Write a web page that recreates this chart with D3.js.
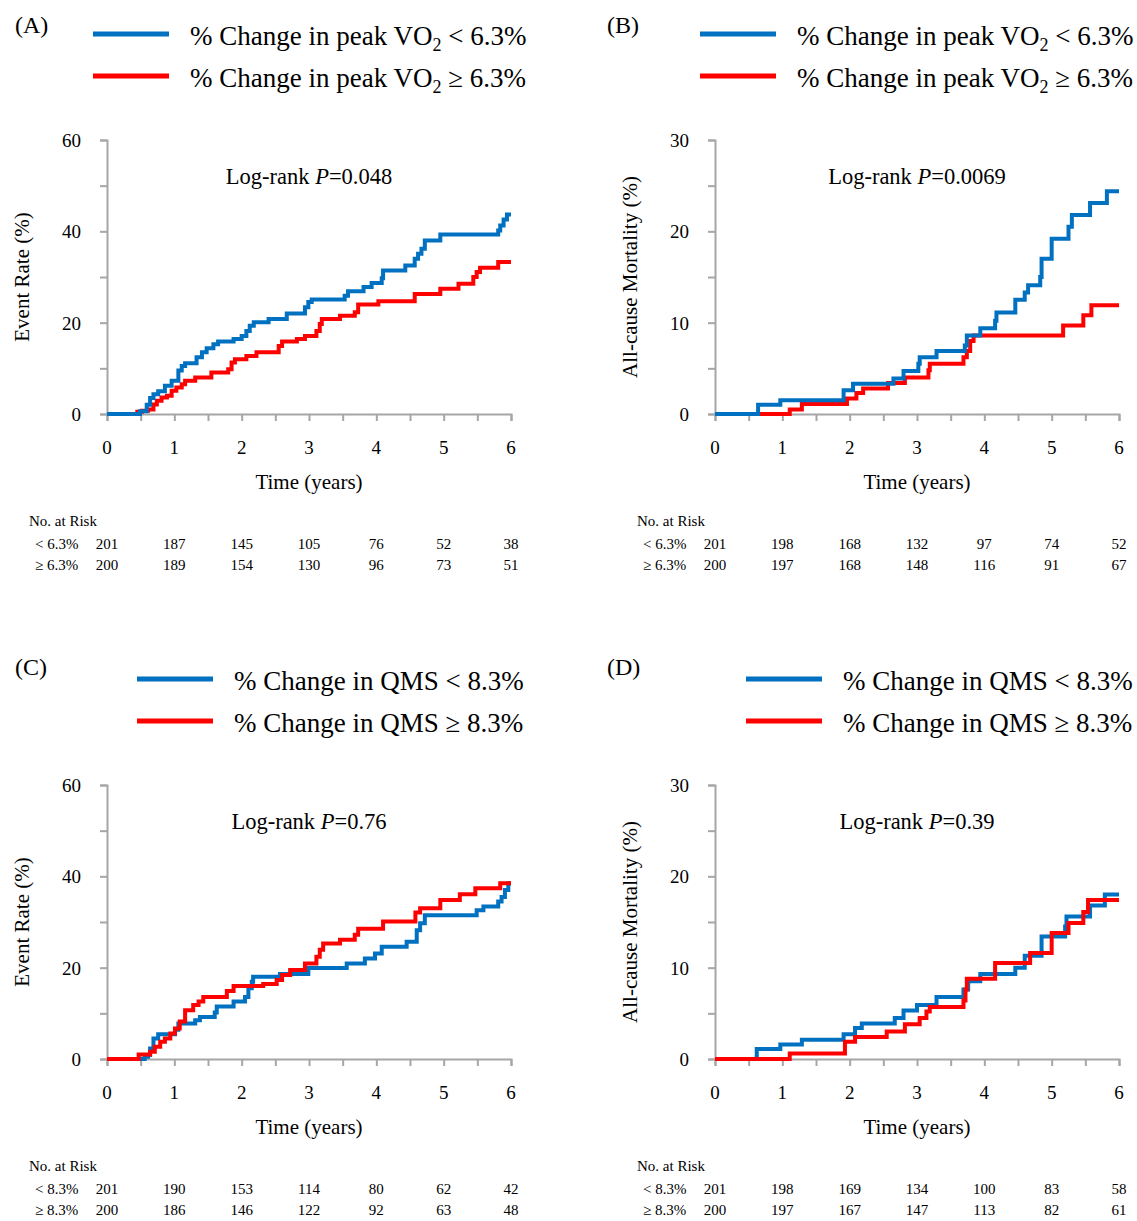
<!DOCTYPE html>
<html>
<head>
<meta charset="utf-8">
<script src="https://cdn.jsdelivr.net/npm/d3@7"></script>
<style>
  body { margin: 0; background: #fff; }
  svg text { font-family: "Liberation Serif", "Times New Roman", serif; fill: #000; }
</style>
</head>
<body>
<div id="chart"></div>
<script>
// Ticks and labels
let xTicks = [0, 1, 2, 3, 4, 5, 6];
let riskYears = [0, 1, 2, 3, 4, 5, 6];

// Panel A: event rate by % change in peak VO2
let aBlueT = [0.49,0.59,0.64,0.69,0.76,0.86,0.96,1.06,1.11,1.16,1.33,1.41,1.48,1.58,1.65,1.88,2.00,2.07,2.12,2.18,2.40,2.67,2.94,2.99,3.04,3.53,3.58,3.81,3.93,4.08,4.10,4.43,4.57,4.62,4.67,4.72,4.95,5.81,5.84,5.89,5.94];
let aBlueV = [0.6,2.0,3.5,4.3,5.0,6.2,7.3,9.5,10.5,11.1,12.4,13.5,14.4,15.3,15.9,16.4,17.1,18.2,19.3,20.1,20.8,22.0,23.4,24.5,25.1,25.9,26.9,27.8,28.7,29.7,31.4,32.5,34.0,35.1,36.2,38.0,39.3,40.2,41.3,42.6,43.7];
let aRedT = [0.45,0.52,0.61,0.69,0.74,0.81,0.89,0.96,1.03,1.11,1.16,1.31,1.55,1.80,1.85,1.90,2.07,2.22,2.55,2.60,2.82,2.94,3.11,3.16,3.19,3.46,3.68,3.73,4.03,4.57,4.95,5.22,5.44,5.49,5.54,5.81];
let aRedV = [0.5,0.7,1.0,2.1,2.9,3.6,4.0,5.1,5.8,6.5,7.3,8.0,9.1,9.8,11.3,12.0,12.7,13.5,14.9,15.9,16.4,17.1,18.2,19.7,20.8,21.5,22.3,24.0,24.7,26.3,27.4,28.5,30.0,31.1,32.0,33.3];
let aRiskBlue = [201, 187, 145, 105, 76, 52, 38];
let aRiskRed = [200, 189, 154, 130, 96, 73, 51];

// Panel B: all-cause mortality by % change in peak VO2
let bBlueT = [0.64,0.97,1.91,2.05,2.65,2.80,3.02,3.04,3.29,3.71,3.74,3.94,4.16,4.18,4.46,4.60,4.65,4.83,4.85,5.00,5.25,5.30,5.57,5.82];
let bBlueV = [1.0,1.5,2.6,3.3,3.9,4.7,5.5,6.2,6.9,7.5,8.6,9.4,10.2,11.1,12.5,13.3,14.1,15.0,17.0,19.2,20.5,21.8,23.1,24.4];
let bRedT = [1.11,1.29,1.96,2.10,2.20,2.57,2.82,3.17,3.19,3.69,3.74,3.79,3.84,5.17,5.47,5.59];
let bRedV = [0.5,1.1,1.7,2.3,2.8,3.4,4.0,4.8,5.5,6.2,6.9,8.0,8.6,9.7,10.8,11.9];
let bRiskBlue = [201, 198, 168, 132, 97, 74, 52];
let bRiskRed = [200, 197, 168, 148, 116, 91, 67];

// Panel C: event rate by % change in QMS
let cBlueT = [0.56,0.61,0.64,0.69,0.76,1.01,1.06,1.31,1.38,1.60,1.63,1.88,2.05,2.10,2.15,2.17,2.57,2.99,3.56,3.83,3.98,4.08,4.45,4.60,4.65,4.72,5.49,5.59,5.81,5.86,5.91,5.96];
let cBlueV = [0.5,0.9,2.3,4.5,5.4,6.4,7.8,8.5,9.2,10.2,11.5,12.6,13.6,15.5,16.9,18.0,18.6,19.9,20.9,22.0,23.1,24.6,25.7,28.2,29.7,31.5,32.6,33.4,34.5,35.5,37.0,38.5];
let cRedT = [0.47,0.64,0.71,0.79,0.86,0.94,1.01,1.08,1.16,1.28,1.36,1.43,1.78,1.88,2.32,2.52,2.60,2.72,2.94,3.11,3.16,3.21,3.46,3.68,3.73,4.10,4.58,4.65,4.95,5.24,5.47,5.84];
let cRedV = [1.0,1.6,2.7,3.8,4.5,5.6,6.7,8.2,10.7,11.8,12.6,13.6,14.9,16.0,16.4,17.3,18.4,19.5,20.9,22.4,23.9,25.3,26.1,27.2,28.5,30.1,32.1,33.0,34.8,36.1,37.4,38.5];
let cRiskBlue = [201, 190, 153, 114, 80, 62, 42];
let cRiskRed = [200, 186, 146, 122, 92, 63, 48];

// Panel D: all-cause mortality by % change in QMS
let dBlueT = [0.62,0.97,1.29,1.91,2.08,2.18,2.67,2.80,3.00,3.29,3.69,3.76,3.94,4.46,4.60,4.85,5.20,5.22,5.57,5.79];
let dBlueV = [1.1,1.6,2.1,2.7,3.4,3.9,4.5,5.3,5.9,6.8,7.6,8.5,9.3,10.0,11.3,13.4,14.5,15.6,16.8,18.0];
let dRedT = [1.11,1.93,2.08,2.55,2.82,3.04,3.14,3.19,3.69,3.72,3.74,4.16,4.68,5.00,5.25,5.47,5.54];
let dRedV = [0.6,1.9,2.4,3.0,3.8,4.5,5.2,5.7,6.4,7.6,8.8,10.5,11.6,13.8,14.9,16.1,17.4];
let dRiskBlue = [201, 198, 169, 134, 100, 83, 58];
let dRiskRed = [200, 197, 167, 147, 113, 82, 61];

let blue = "#0070C0";
let red = "#FF0000";
let axisColor = "#A6A6A6";

let svg = d3.select("#chart")
  .append("svg")
  .attr("width", 1137)
  .attr("height", 1221);

//Panel layout (pixel frames) and their content
let panels = [
  { tag: "(A)", tagX: 15, left: 107, top: 140, yMax: 60, yLabels: [0, 20, 40, 60], yTitle: "Event Rate (%)",
    p: "0.048", legendX: 93, legendTop: 34, kind: "vo2", cut: "6.3%",
    blue: [aBlueT, aBlueV], red: [aRedT, aRedV], risk: [aRiskBlue, aRiskRed] },
  { tag: "(B)", tagX: 607, left: 715, top: 140, yMax: 30, yLabels: [0, 10, 20, 30], yTitle: "All-cause Mortality (%)",
    p: "0.0069", legendX: 700, legendTop: 34, kind: "vo2", cut: "6.3%",
    blue: [bBlueT, bBlueV], red: [bRedT, bRedV], risk: [bRiskBlue, bRiskRed] },
  { tag: "(C)", tagX: 15, left: 107, top: 785, yMax: 60, yLabels: [0, 20, 40, 60], yTitle: "Event Rate (%)",
    p: "0.76", legendX: 137, legendTop: 679, kind: "qms", cut: "8.3%",
    blue: [cBlueT, cBlueV], red: [cRedT, cRedV], risk: [cRiskBlue, cRiskRed] },
  { tag: "(D)", tagX: 607, left: 715, top: 785, yMax: 30, yLabels: [0, 10, 20, 30], yTitle: "All-cause Mortality (%)",
    p: "0.39", legendX: 746, legendTop: 679, kind: "qms", cut: "8.3%",
    blue: [dBlueT, dBlueV], red: [dRedT, dRedV], risk: [dRiskBlue, dRiskRed] }
];

let plotW = 404;
let plotH = 274;

panels.forEach(function (cfg) {
  let g = svg.append("g").attr("transform", `translate(${cfg.left}, ${cfg.top})`);

  let x = d3.scaleLinear().domain([0, 6]).range([0, plotW]);
  let y = d3.scaleLinear().domain([0, cfg.yMax]).range([plotH, 0]);

  //Axes
  let xAxis = d3.axisBottom(x).tickValues(d3.range(0, 6.01, 0.5)).tickSize(7).tickFormat("");
  let yAxis = d3.axisLeft(y).tickValues(d3.range(0, cfg.yMax + 0.1, cfg.yMax / 6)).tickSize(7).tickFormat("");

  let gx = g.append("g").attr("transform", `translate(0, ${plotH})`).call(xAxis);
  let gy = g.append("g").call(yAxis);
  [gx, gy].forEach(function (a) {
    a.select(".domain").attr("stroke", axisColor).attr("stroke-width", 2);
    a.selectAll(".tick line").attr("stroke", axisColor).attr("stroke-width", 2);
  });

  g.selectAll(".xlab")
    .data(xTicks)
    .enter()
    .append("text")
    .attr("x", d => x(d))
    .attr("y", plotH + 40)
    .attr("text-anchor", "middle")
    .style("font-size", "19px")
    .text(d => d);

  g.selectAll(".ylab")
    .data(cfg.yLabels)
    .enter()
    .append("text")
    .attr("x", -26)
    .attr("y", d => y(d) + 7)
    .attr("text-anchor", "end")
    .style("font-size", "19px")
    .text(d => d);

  //Axis titles
  g.append("text")
    .attr("x", plotW / 2)
    .attr("y", plotH + 75)
    .attr("text-anchor", "middle")
    .style("font-size", "21px")
    .text("Time (years)");

  g.append("text")
    .attr("transform", `translate(-78, ${plotH / 2}) rotate(-90)`)
    .attr("text-anchor", "middle")
    .style("font-size", "21px")
    .text(cfg.yTitle);

  //Log-rank annotation
  let lr = g.append("text")
    .attr("x", plotW / 2)
    .attr("y", 44)
    .attr("text-anchor", "middle")
    .style("font-size", "22.5px");
  lr.append("tspan").text("Log-rank ");
  lr.append("tspan").style("font-style", "italic").text("P");
  lr.append("tspan").text("=" + cfg.p);

  //Step curves
  let line = d3.line()
    .x(d => x(d[0]))
    .y(d => y(d[1]))
    .curve(d3.curveStepAfter);

  function steps(tv) {
    let pts = [[0, 0]];
    tv[0].forEach((t, i) => pts.push([t, tv[1][i]]));
    pts.push([6, tv[1][tv[1].length - 1]]);
    return pts;
  }

  let order = cfg.kind === "qms" ? [["blue", blue], ["red", red]] : [["red", red], ["blue", blue]];
  order.forEach(function (o) {
    g.append("path")
      .datum(steps(cfg[o[0]]))
      .attr("d", line)
      .attr("fill", "none")
      .attr("stroke", o[1])
      .attr("stroke-width", 4);
  });

  //Panel tag and legend
  svg.append("text")
    .attr("x", cfg.tagX)
    .attr("y", cfg.legendTop + (cfg.top === 140 ? -1 : -4))
    .style("font-size", "24px")
    .text(cfg.tag);

  let names = cfg.kind === "vo2" ? "peak VO" : "QMS";
  [["<", blue], ["\u2265", red]].forEach(function (item, i) {
    let ly = cfg.legendTop + i * 42;
    svg.append("line")
      .attr("x1", cfg.legendX)
      .attr("x2", cfg.legendX + 76)
      .attr("y1", ly)
      .attr("y2", ly)
      .attr("stroke", item[1])
      .attr("stroke-width", 5);
    let t = svg.append("text")
      .attr("x", cfg.legendX + 97)
      .attr("y", ly + 11)
      .style("font-size", "27px");
    t.append("tspan").text("% Change in " + names);
    if (cfg.kind === "vo2") {
      t.append("tspan").attr("dy", 6).style("font-size", "18px").text("2");
      t.append("tspan").attr("dy", -6).text(" " + item[0] + " " + cfg.cut);
    } else {
      t.append("tspan").text(" " + item[0] + " " + cfg.cut);
    }
  });

  //Number at risk table
  g.append("text")
    .attr("x", -78)
    .attr("y", plotH + 112)
    .style("font-size", "15px")
    .text("No. at Risk");
  [["< " + cfg.cut, cfg.risk[0]], ["\u2265 " + cfg.cut, cfg.risk[1]]].forEach(function (row, i) {
    let ry = plotH + 135 + i * 21;
    g.append("text")
      .attr("x", -72)
      .attr("y", ry)
      .style("font-size", "15px")
      .text(row[0]);
    g.selectAll(null)
      .data(row[1])
      .enter()
      .append("text")
      .attr("x", (d, k) => x(riskYears[k]))
      .attr("y", ry)
      .attr("text-anchor", "middle")
      .style("font-size", "15px")
      .text(d => d);
  });
});
</script>
</body>
</html>
